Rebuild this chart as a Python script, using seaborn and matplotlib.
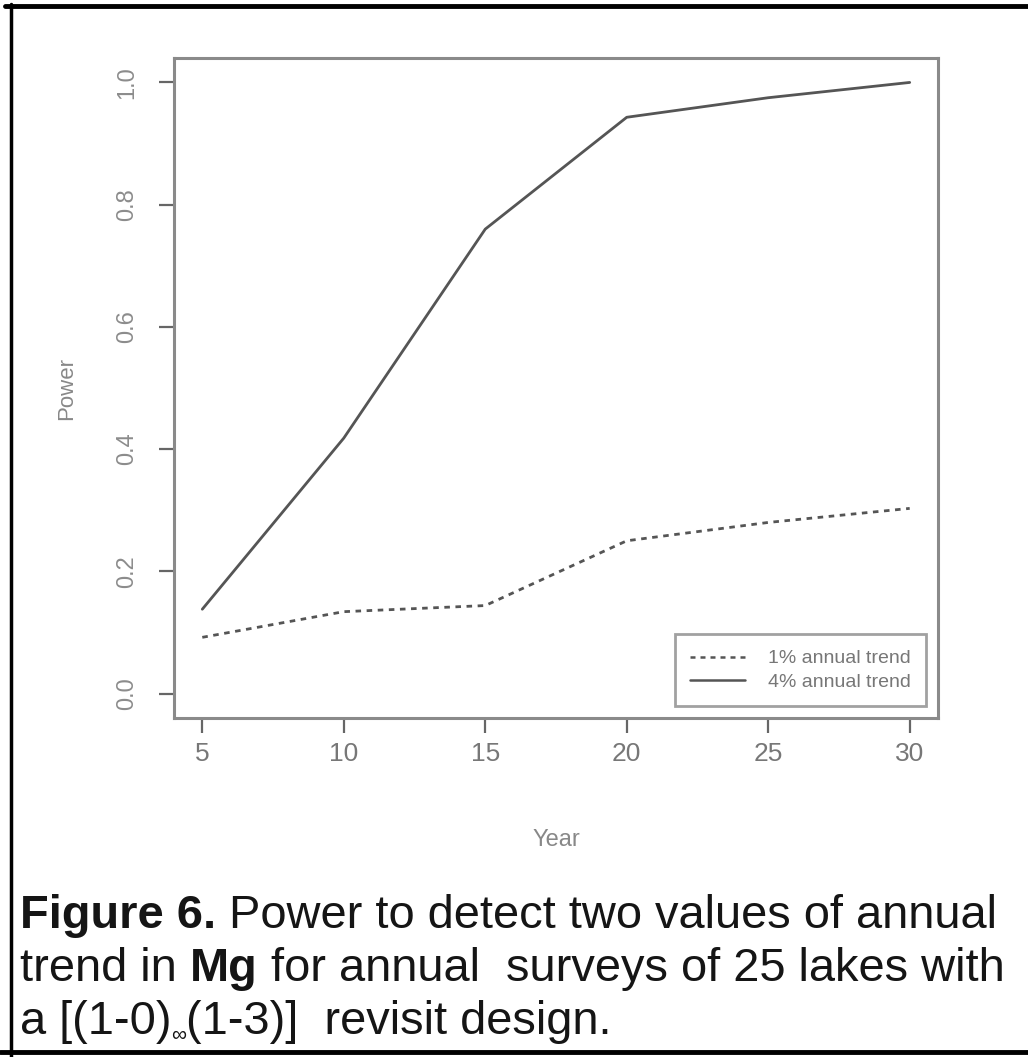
import matplotlib
matplotlib.use("Agg")
import matplotlib.pyplot as plt
import matplotlib.lines as mlines
import numpy as np
import pandas as pd
import seaborn as sns

# -------------------------
# Data
# -------------------------
years = [5, 10, 15, 20, 25, 30]
power_1pct = [0.092, 0.134, 0.144, 0.250, 0.280, 0.303]
power_4pct = [0.138, 0.418, 0.760, 0.943, 0.975, 1.000]
series_labels = ["1% annual trend", "4% annual trend"]
x_ticks = [5, 10, 15, 20, 25, 30]
y_ticks = [0.0, 0.2, 0.4, 0.6, 0.8, 1.0]

caption_lines = [
    [("Figure 6.", "bold", 1.0), (" Power to detect two values of annual", "normal", 1.0)],
    [("trend in ", "normal", 1.0), ("Mg", "bold", 1.0),
     (" for annual  surveys of 25 lakes with", "normal", 1.0)],
    [("a [(1-0)", "normal", 1.0), ("\u221e", "normal", 0.45),
     ("(1-3)]  revisit design.", "normal", 1.0)],
]

df = pd.DataFrame({
    "Year": years * 2,
    "Power": power_1pct + power_4pct,
    "trend": [series_labels[0]] * len(years) + [series_labels[1]] * len(years),
})

# -------------------------
# Style
# -------------------------
sns.set_theme(style="white")
plt.rcParams["font.family"] = ["Liberation Sans", "DejaVu Sans"]

W, H = 1028, 1057
fig = plt.figure(figsize=(W / 100, H / 100), dpi=100)
fig.patch.set_facecolor("white")

ax = fig.add_axes([174 / W, 1 - 718 / H, (938 - 174) / W, (718 - 58) / H])

line_col = "#555555"
axis_col = "#8a8a8a"
text_col = "#8c8c8c"

sns.lineplot(data=df, x="Year", y="Power", style="trend",
             style_order=series_labels,
             dashes={series_labels[0]: (2, 2), series_labels[1]: ""},
             color=line_col, linewidth=2.0, ax=ax, legend=False)

ax.set_xlim(4, 31)
ax.set_ylim(-0.04, 1.04)
ax.set_xticks(x_ticks)
ax.set_yticks(y_ticks)
ax.set_xticklabels([str(t) for t in x_ticks], fontsize=19, color="#777777")
ax.set_yticklabels([f"{t:.1f}" for t in y_ticks], fontsize=17, color=text_col,
                   rotation=90, va="center")
ax.tick_params(axis="both", direction="out", length=11, width=1.6, color="#666666",
               left=True, bottom=True, pad=6)
ax.tick_params(axis="y", pad=15)
ax.set_xlabel("Year", fontsize=17, color="#888888", labelpad=46)
ax.set_ylabel("Power", fontsize=16, color="#888888", labelpad=28)

for sp in ax.spines.values():
    sp.set_color(axis_col)
    sp.set_linewidth(2.2)
    sp.set_visible(True)

# legend
handles = [
    mlines.Line2D([], [], color=line_col, linewidth=1.8, dashes=(2, 2)),
    mlines.Line2D([], [], color=line_col, linewidth=1.8),
]
leg = ax.legend(handles, series_labels, loc="lower right", fontsize=14,
                frameon=True, fancybox=False, borderaxespad=0.6,
                handlelength=2.8, borderpad=0.8, labelspacing=0.3,
                handletextpad=1.2)
leg.get_frame().set_edgecolor(axis_col)
leg.get_frame().set_linewidth(2.0)
for t in leg.get_texts():
    t.set_color("#777777")

# -------------------------
# Caption (pieces placed one after the other)
# -------------------------
renderer = fig.canvas.get_renderer()
cap_size = 33.8
baselines = [928, 981, 1034]
for line, base in zip(caption_lines, baselines):
    x = 20
    for txt, weight, scale in line:
        size = cap_size * scale
        y_px = base if scale == 1.0 else base + 7
        t = fig.text(x / W, 1 - y_px / H, txt, fontsize=size, fontweight=weight,
                     color="#151515", ha="left", va="baseline")
        x += t.get_window_extent(renderer).width

# outer frame lines
fig.add_artist(mlines.Line2D([5 / W, 1], [1 - 6 / H, 1 - 6 / H], color="black", linewidth=3.5))
fig.add_artist(mlines.Line2D([11 / W, 11 / W], [1 - 4 / H, 0], color="black", linewidth=2.5))
fig.add_artist(mlines.Line2D([0, 1], [1 - 1052 / H, 1 - 1052 / H], color="black", linewidth=3.5))

fig.savefig("out.png", dpi=100, facecolor="white")
